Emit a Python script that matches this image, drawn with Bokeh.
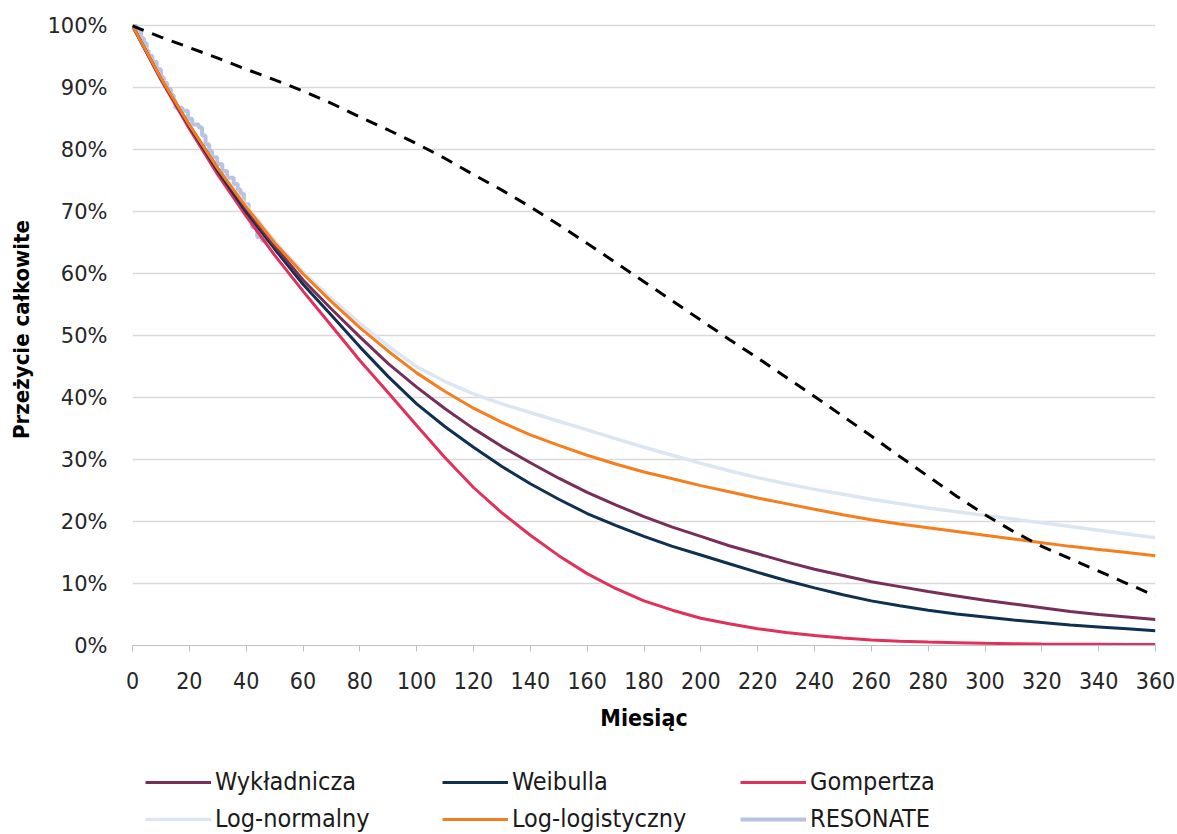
from bokeh.plotting import figure
from bokeh.models import Range1d, FixedTicker, Legend, LegendItem
from bokeh.layouts import column
from bokeh.embed import file_html
from bokeh.resources import INLINE

# ---------------- data ----------------
miesiace = list(range(0, 361, 10))

wykladnicza = [100, 91.5, 84, 77, 70.5, 64.5, 59, 54.3, 49.8, 45.5, 41.7, 38.2, 35,
               32.1, 29.5, 27.0, 24.7, 22.7, 20.8, 19.1, 17.6, 16.1, 14.8, 13.5,
               12.3, 11.3, 10.3, 9.5, 8.7, 8.0, 7.3, 6.7, 6.1, 5.5, 5.0, 4.6, 4.2]
weibulla = [100, 91.5, 83.8, 76.6, 70, 64, 58.3, 53.3, 48.2, 43.4, 39.0, 35.3, 32.0,
            28.9, 26.1, 23.6, 21.3, 19.4, 17.6, 16.0, 14.6, 13.2, 11.8, 10.5, 9.3,
            8.2, 7.2, 6.4, 5.7, 5.1, 4.6, 4.1, 3.7, 3.3, 3.0, 2.7, 2.4]
gompertza = [100, 91.3, 83.4, 76, 69.3, 63, 57.2, 51.6, 46, 40.8, 35.5, 30.3, 25.5,
             21.4, 17.8, 14.5, 11.6, 9.2, 7.2, 5.7, 4.4, 3.5, 2.7, 2.1, 1.6, 1.2,
             0.9, 0.7, 0.55, 0.45, 0.35, 0.3, 0.25, 0.22, 0.2, 0.17, 0.15]
log_normalny = [100, 91.6, 84, 77, 71, 65.3, 60.3, 56, 52, 48.3, 45, 42.6, 40.6,
                39.0, 37.6, 36.2, 34.8, 33.4, 32.0, 30.7, 29.4, 28.2, 27.1, 26.1,
                25.2, 24.4, 23.6, 22.9, 22.2, 21.6, 21.0, 20.4, 19.8, 19.2, 18.6,
                18.0, 17.4]
log_logistyczny = [100, 91.6, 84, 77, 70.8, 65, 60, 55.5, 51.3, 47.5, 44, 41, 38.3,
                   36.0, 34, 32.3, 30.7, 29.3, 28, 26.9, 25.8, 24.8, 23.8, 22.9, 22,
                   21.1, 20.3, 19.6, 19, 18.4, 17.8, 17.2, 16.6, 16.0, 15.5, 15.0, 14.5]

populacja = [100, 98.2, 96.5, 94.8, 93, 91.3, 89.5, 87.5, 85.3, 83.2, 81, 78.6, 76,
             73.5, 70.8, 67.9, 64.9, 61.8, 58.7, 55.6, 52.5, 49.4, 46.4, 43.3, 40.2,
             37.0, 33.8, 30.5, 27.3, 24.1, 21.1, 18.4, 16.0, 14.0, 12.0, 10.0, 8.0]

resonate_t = [0, 1.5, 3, 4, 5, 5.7, 7, 8.5, 10, 11, 12.2, 13.5, 14.5, 15.1, 17.5,
              19.5, 21, 23.3, 24.5, 25.7, 27, 28, 29.8, 31.6, 33.3, 35.6, 37, 38,
              39.2, 40.9, 42.1, 43.9, 45.6, 50.3]
resonate_s = [100, 99, 98, 97.2, 96, 95.2, 94.2, 93, 91.7, 90.8, 89.8, 88.8, 87.9,
              86.8, 86.3, 85, 84.1, 83.6, 82.3, 80.9, 79.8, 78.8, 77.7, 76.6, 75.5,
              74.5, 73.6, 72.9, 71.2, 69.1, 67.5, 65.9, 65.3, 65.3]

x_ticks = list(range(0, 361, 20))
y_ticks = list(range(0, 101, 10))
y_tick_labels = {v: f"{v}%" for v in y_ticks}

nazwy = ["Wykładnicza", "Weibulla", "Gompertza", "Log-normalny", "Log-logistyczny", "RESONATE"]
kolory = ["#772F59", "#10304F", "#E0315B", "#DCE6F2", "#F57E1E", "#B8C3E3"]
szerokosci = [3, 3, 3, 3.5, 3, 4]

# ---------------- main figure ----------------
p = figure(width=1177, height=745, output_backend="svg", toolbar_location=None,
           x_range=Range1d(0, 360), y_range=Range1d(0, 102),
           min_border_left=132, min_border_right=22, min_border_top=13,
           min_border_bottom=100)
p.outline_line_color = None
p.background_fill_color = "white"
p.border_fill_color = "white"

p.xgrid.grid_line_color = None
p.ygrid.grid_line_color = "#D9D9D9"
p.ygrid.grid_line_width = 1.5
p.ygrid.ticker = FixedTicker(ticks=y_ticks)

xa = p.xaxis[0]
xa.ticker = FixedTicker(ticks=x_ticks)
xa.axis_line_color = "#BFBFBF"
xa.major_tick_line_color = "#BFBFBF"
xa.major_tick_out = 6
xa.major_tick_in = 0
xa.minor_tick_line_color = None
xa.major_label_text_font = "DejaVu Sans Condensed"
xa.major_label_text_font_size = "23px"
xa.major_label_text_color = "#262626"
xa.major_label_standoff = 20
xa.axis_label = "Miesiąc"
xa.axis_label_text_font = "DejaVu Sans Condensed"
xa.axis_label_text_font_style = "bold"
xa.axis_label_text_font_size = "23px"
xa.axis_label_text_color = "#000000"
xa.axis_label_standoff = 13

ya = p.yaxis[0]
ya.ticker = FixedTicker(ticks=y_ticks)
ya.major_label_overrides = y_tick_labels
ya.axis_line_color = None
ya.major_tick_line_color = None
ya.minor_tick_line_color = None
ya.major_label_text_font = "DejaVu Sans"
ya.major_label_text_font_size = "21px"
ya.major_label_text_color = "#262626"
ya.major_label_standoff = 19
ya.axis_label = "Przeżycie całkowite"
ya.axis_label_text_font = "DejaVu Sans Condensed"
ya.axis_label_text_font_style = "bold"
ya.axis_label_text_font_size = "22px"
ya.axis_label_text_color = "#000000"
ya.axis_label_standoff = 10

p.step(resonate_t, resonate_s, mode="after", line_color=kolory[5], line_width=szerokosci[5])
p.line(miesiace, log_normalny, line_color=kolory[3], line_width=szerokosci[3])
p.line(miesiace, gompertza, line_color=kolory[2], line_width=szerokosci[2])
p.line(miesiace, weibulla, line_color=kolory[1], line_width=szerokosci[1])
p.line(miesiace, wykladnicza, line_color=kolory[0], line_width=szerokosci[0])
p.line(miesiace, log_logistyczny, line_color=kolory[4], line_width=szerokosci[4])
p.line(miesiace, populacja, line_color="black", line_width=3, line_dash="12 9")

# ---------------- legend strip (frame aligned with the main frame) ----------------
p2 = figure(width=1177, height=89, output_backend="svg", toolbar_location=None,
            x_range=Range1d(0, 100), y_range=Range1d(0, 100),
            min_border_left=0, min_border_right=0, min_border_top=0, min_border_bottom=0)
p2.axis.visible = False
p2.grid.visible = False
p2.outline_line_color = None
p2.background_fill_color = "white"
p2.border_fill_color = "white"

# sample lines kept outside the visible range: they only supply legend swatches
wzory = [p2.line([-50, -40], [-50, -50], line_color=c, line_width=w)
         for c, w in zip(kolory, szerokosci)]

kolumny = [(0, 3), (1, 4), (2, 5)]
x_kol = [13, 310, 608]
for xk, (a, b) in zip(x_kol, kolumny):
    lg = Legend(items=[LegendItem(label=nazwy[a], renderers=[wzory[a]]),
                       LegendItem(label=nazwy[b], renderers=[wzory[b]])],
                location=(xk, 1), orientation="vertical",
                glyph_width=66, glyph_height=28, label_height=28,
                label_standoff=4, spacing=8, padding=0, margin=0,
                border_line_color=None, background_fill_alpha=0,
                label_text_font="DejaVu Sans Condensed",
                label_text_font_size="25px", label_text_color="#1a1a1a")
    p2.add_layout(lg, "center")

open("out.html", "w").write(file_html(column(p, p2, spacing=0), INLINE))
